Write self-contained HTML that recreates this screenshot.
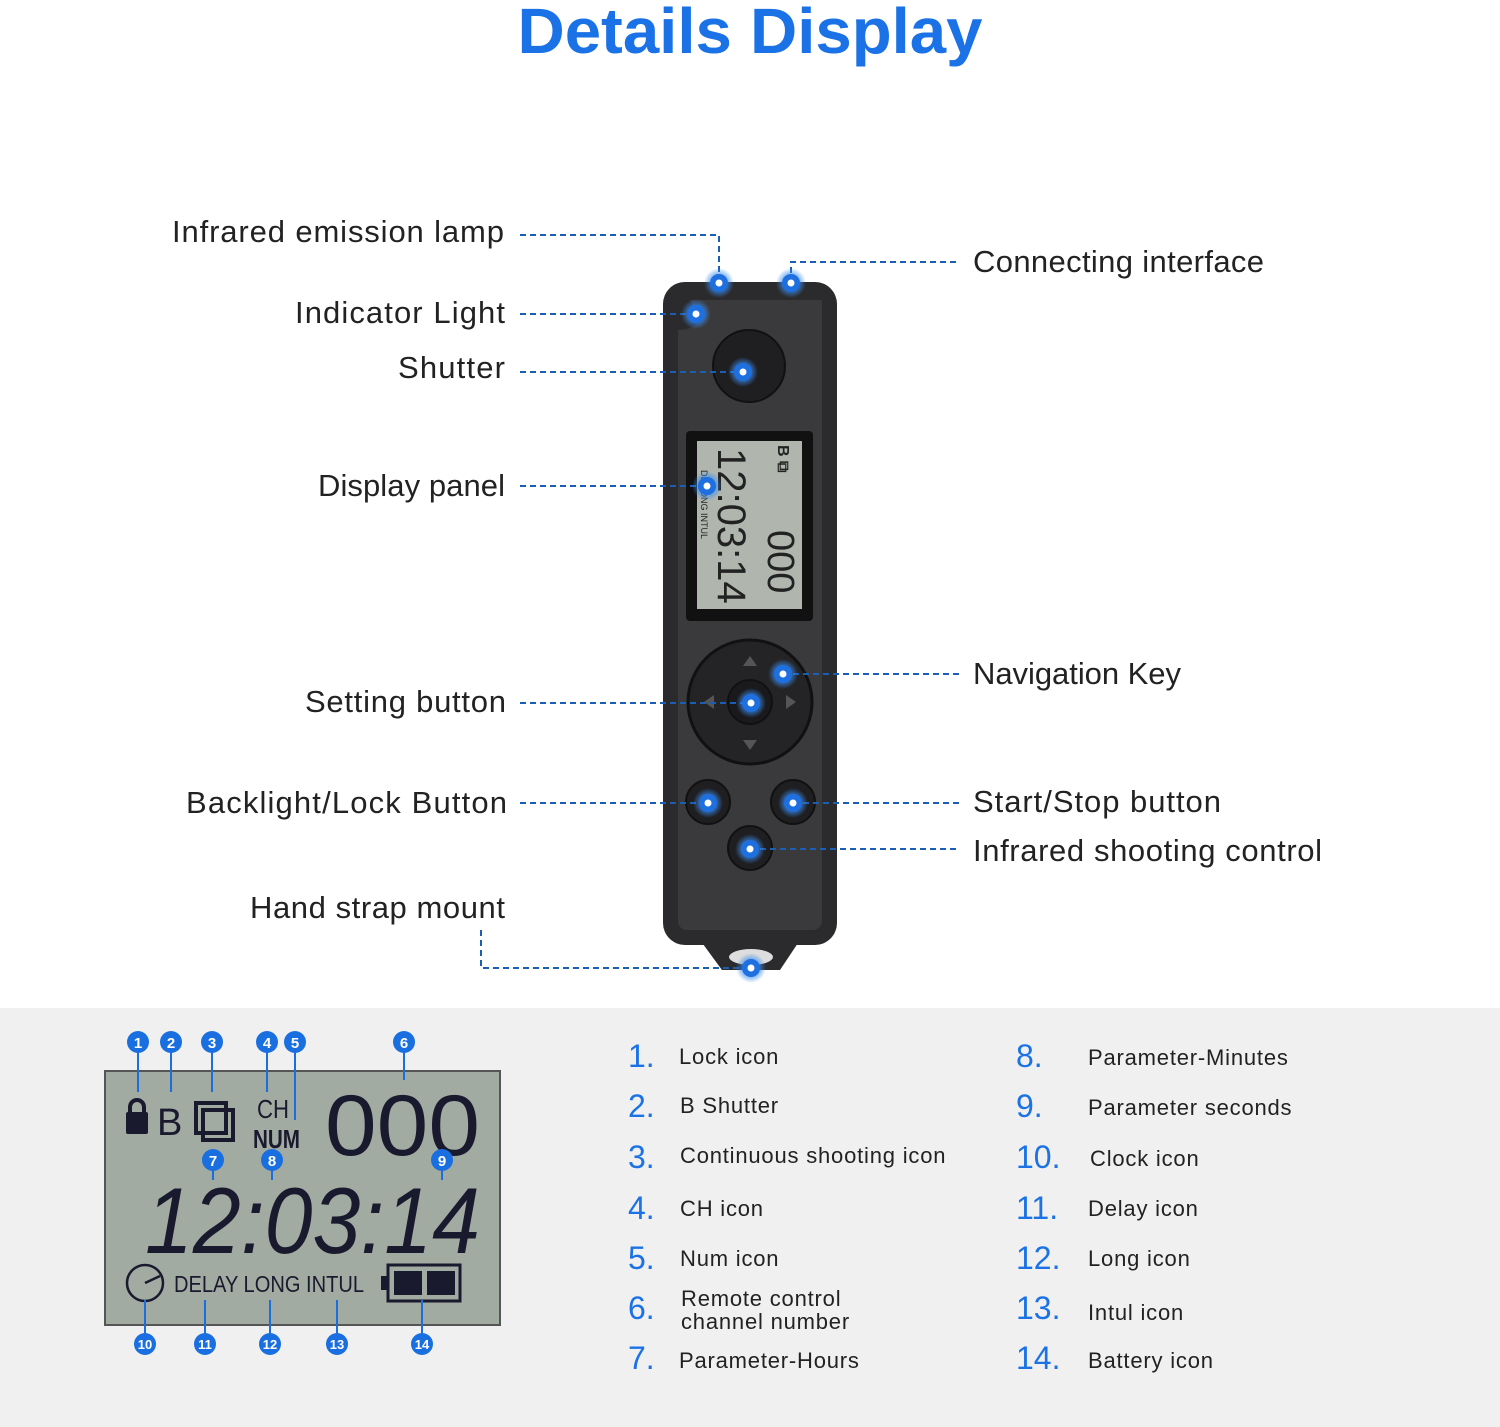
<!DOCTYPE html>
<html><head><meta charset="utf-8"><style>
html,body{margin:0;padding:0;background:#fff}
svg{display:block}
text{font-family:"Liberation Sans",sans-serif}
</style></head><body>
<svg width="1500" height="1427" viewBox="0 0 1500 1427" xmlns="http://www.w3.org/2000/svg">
<defs>
<radialGradient id="glow"><stop offset="0.4" stop-color="#3a8cf0" stop-opacity="0.9"/><stop offset="1" stop-color="#3a8cf0" stop-opacity="0"/></radialGradient>
<g id="dot"><circle r="15" fill="url(#glow)"/><circle r="9" fill="#1e6fe0"/><circle r="3.5" fill="#fff"/></g>
</defs>
<rect x="0" y="1008" width="1500" height="419" fill="#f0f0f0"/>
<text x="750" y="53" text-anchor="middle" font-size="64" font-weight="bold" fill="#1a72e6" textLength="465" lengthAdjust="spacingAndGlyphs">Details Display</text>

<!-- device -->
<rect x="663" y="282" width="174" height="663" rx="22" fill="#2b2b2d"/>
<path d="M700 940 L800 940 L780 970 L722 970 Z" fill="#2b2b2d"/>
<ellipse cx="751" cy="957" rx="22" ry="8" fill="#ddd"/>
<path d="M690 300 L822 300 L822 920 Q822 930 812 930 L688 930 Q678 930 678 920 L678 330 Q690 330 700 322 Z" fill="#3a3a3d"/>
<circle cx="749" cy="366" r="36" fill="#1f1f21" stroke="#111" stroke-width="2"/>
<rect x="686" y="431" width="127" height="190" rx="4" fill="#111"/>
<rect x="697" y="441" width="105" height="168" fill="#b0b6ae"/>
<g fill="#222" font-size="10">
<text transform="translate(778,445) rotate(90)" font-size="16" font-weight="bold">B ⧉</text>
<text transform="translate(768,530) rotate(90)" font-size="38" font-family="Liberation Mono">000</text>
<text transform="translate(718,448) rotate(90)" font-size="40" font-family="Liberation Mono">12:03:14</text>
<text transform="translate(701,470) rotate(90)" font-size="9">DE LONG INTUL</text>
</g>
<circle cx="750" cy="702" r="62" fill="#242426" stroke="#111" stroke-width="3"/>
<circle cx="750" cy="702" r="22" fill="#1a1a1c" stroke="#111" stroke-width="2"/>
<g fill="#555"><path d="M750 656 l-7 10 h14z"/><path d="M750 750 l-7 -10 h14z"/><path d="M704 702 l10 -7 v14z"/><path d="M796 702 l-10 -7 v14z"/></g>
<circle cx="708" cy="802" r="22" fill="#1f1f21" stroke="#111" stroke-width="2"/>
<circle cx="793" cy="802" r="22" fill="#1f1f21" stroke="#111" stroke-width="2"/>
<circle cx="750" cy="848" r="22" fill="#1f1f21" stroke="#111" stroke-width="2"/>

<!-- leader lines -->
<g stroke="#1a5fb4" stroke-width="2" stroke-dasharray="6 4" fill="none">
<path d="M520 235 H719 V283"/>
<path d="M791 283 V262 H960"/>
<path d="M520 314 H696"/>
<path d="M520 372 H743"/>
<path d="M520 486 H707"/>
<path d="M520 703 H751"/>
<path d="M783 674 H960"/>
<path d="M520 803 H708"/>
<path d="M793 803 H960"/>
<path d="M750 849 H960"/>
<path d="M481 930 V968 H751"/>
</g>
<use href="#dot" x="719" y="283"/><use href="#dot" x="791" y="283"/><use href="#dot" x="696" y="314"/>
<use href="#dot" x="743" y="372"/><use href="#dot" x="707" y="486"/><use href="#dot" x="751" y="703"/>
<use href="#dot" x="783" y="674"/><use href="#dot" x="708" y="803"/><use href="#dot" x="793" y="803"/>
<use href="#dot" x="750" y="849"/><use href="#dot" x="751" y="968"/>

<g font-size="31" fill="#222">
<text x="172" y="242" textLength="332">Infrared emission lamp</text>
<text x="295" y="323" textLength="210">Indicator Light</text>
<text x="398" y="378" textLength="107">Shutter</text>
<text x="318" y="496" textLength="187">Display panel</text>
<text x="305" y="712" textLength="201">Setting button</text>
<text x="186" y="813" textLength="321">Backlight/Lock Button</text>
<text x="250" y="918" textLength="255">Hand strap mount</text>
<text x="973" y="272" textLength="291">Connecting interface</text>
<text x="973" y="684" textLength="208">Navigation Key</text>
<text x="973" y="812" textLength="248">Start/Stop button</text>
<text x="973" y="861" textLength="349">Infrared shooting control</text>
</g>

<!-- LCD detail -->
<rect x="105" y="1071" width="395" height="254" fill="#a2aba2" stroke="#555" stroke-width="2"/>
<g fill="#1a1a2e">
<rect x="126" y="1112" width="22" height="22" rx="2"/>
<path d="M130 1112 v-5 a7 7 0 0 1 14 0 v5" fill="none" stroke="#1a1a2e" stroke-width="4"/>
<text x="157" y="1135" font-size="38">B</text>
<rect x="196" y="1103" width="30" height="30" fill="none" stroke="#1a1a2e" stroke-width="4"/>
<rect x="203" y="1110" width="30" height="30" fill="none" stroke="#1a1a2e" stroke-width="4"/>
<text x="257" y="1118" font-size="26" textLength="32" lengthAdjust="spacingAndGlyphs">CH</text>
<text x="253" y="1148" font-size="26" font-weight="bold" textLength="47" lengthAdjust="spacingAndGlyphs">NUM</text>
<text x="325" y="1155" font-size="86" font-family="Liberation Mono" textLength="155" lengthAdjust="spacingAndGlyphs">000</text>
<text x="145" y="1253" font-size="94" font-family="Liberation Mono" font-style="italic" textLength="335" lengthAdjust="spacingAndGlyphs">12:03:14</text>
<text x="174" y="1292" font-size="23" textLength="190" lengthAdjust="spacingAndGlyphs">DELAY LONG INTUL</text>
<rect x="388" y="1265" width="72" height="36" fill="none" stroke="#1a1a2e" stroke-width="3"/>
<rect x="381" y="1276" width="8" height="14"/>
<rect x="394" y="1271" width="28" height="24"/><rect x="427" y="1271" width="28" height="24"/>
</g>
<circle cx="145" cy="1283" r="18" fill="none" stroke="#1a1a2e" stroke-width="2.5"/>
<path d="M145 1283 L160 1276" stroke="#1a1a2e" stroke-width="2.5"/>
<g stroke="#1a6fe0" stroke-width="2">
<path d="M138 1042 V1092"/><path d="M171 1042 V1092"/><path d="M212 1042 V1092"/><path d="M267 1042 V1092"/><path d="M295 1042 V1120"/><path d="M404 1042 V1080"/>
<path d="M213 1160 V1180"/><path d="M272 1160 V1180"/><path d="M442 1160 V1180"/>
<path d="M145 1300 V1344"/><path d="M205 1300 V1344"/><path d="M270 1300 V1344"/><path d="M337 1300 V1344"/><path d="M422 1300 V1344"/>
</g>
<g font-size="15" font-weight="bold" fill="#fff" text-anchor="middle">
<g fill="#1a6fe0"><circle cx="138" cy="1042" r="11"/><circle cx="171" cy="1042" r="11"/><circle cx="212" cy="1042" r="11"/><circle cx="267" cy="1042" r="11"/><circle cx="295" cy="1042" r="11"/><circle cx="404" cy="1042" r="11"/><circle cx="213" cy="1160" r="11"/><circle cx="272" cy="1160" r="11"/><circle cx="442" cy="1160" r="11"/><circle cx="145" cy="1344" r="11"/><circle cx="205" cy="1344" r="11"/><circle cx="270" cy="1344" r="11"/><circle cx="337" cy="1344" r="11"/><circle cx="422" cy="1344" r="11"/></g>
<text x="138" y="1048">1</text><text x="171" y="1048">2</text><text x="212" y="1048">3</text><text x="267" y="1048">4</text><text x="295" y="1048">5</text><text x="404" y="1048">6</text>
<text x="213" y="1166">7</text><text x="272" y="1166">8</text><text x="442" y="1166">9</text>
<g font-size="13"><text x="145" y="1349">10</text><text x="205" y="1349">11</text><text x="270" y="1349">12</text><text x="337" y="1349">13</text><text x="422" y="1349">14</text></g>
</g>

<!-- legend -->
<g font-size="32" fill="#1a72e6">
<text x="628" y="1067">1.</text><text x="628" y="1117">2.</text><text x="628" y="1168">3.</text><text x="628" y="1219">4.</text><text x="628" y="1269">5.</text><text x="628" y="1319">6.</text><text x="628" y="1369">7.</text>
<text x="1016" y="1067">8.</text><text x="1016" y="1117">9.</text><text x="1016" y="1168">10.</text><text x="1016" y="1219">11.</text><text x="1016" y="1269">12.</text><text x="1016" y="1319">13.</text><text x="1016" y="1369">14.</text>
</g>
<g font-size="22" fill="#222" letter-spacing="0.8">
<text x="679" y="1064">Lock icon</text><text x="680" y="1113">B Shutter</text><text x="680" y="1163">Continuous shooting icon</text><text x="680" y="1216">CH icon</text><text x="680" y="1266">Num icon</text>
<text x="681" y="1306">Remote control</text><text x="681" y="1329">channel number</text><text x="679" y="1368">Parameter-Hours</text>
<text x="1088" y="1065">Parameter-Minutes</text><text x="1088" y="1115">Parameter seconds</text><text x="1090" y="1166">Clock icon</text><text x="1088" y="1216">Delay icon</text><text x="1088" y="1266">Long icon</text><text x="1088" y="1320">Intul icon</text><text x="1088" y="1368">Battery icon</text>
</g>
</svg>
</body></html>
